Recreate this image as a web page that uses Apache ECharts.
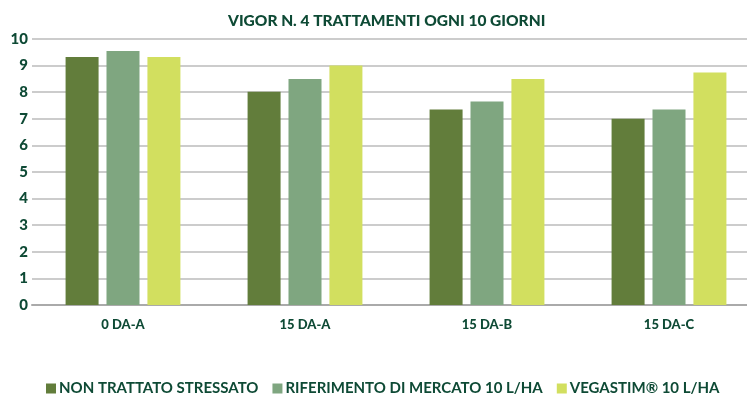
<!DOCTYPE html>
<html>
<head>
<meta charset="utf-8">
<script src="https://cdn.jsdelivr.net/npm/echarts@6/dist/echarts.min.js"></script>
<style>html,body{margin:0;padding:0;background:#fff;overflow:hidden;width:747px;height:403px}#c{width:760px;height:403px}</style>
</head>
<body>
<div id="c"></div>
<script>
const title = 'VIGOR N. 4 TRATTAMENTI OGNI 10 GIORNI';
const categories = ['0 DA-A', '15 DA-A', '15 DA-B', '15 DA-C'];
const seriesNames = ['NON TRATTATO STRESSATO', 'RIFERIMENTO DI MERCATO 10 L/HA', 'VEGASTIM® 10 L/HA'];
const nonTrattato = [9.32, 8.02, 7.35, 7.0];
const riferimento = [9.55, 8.5, 7.65, 7.35];
const vegastim = [9.32, 9.0, 8.5, 8.74];
const yTicks = [0, 10, 1];

const textColor = '#0e4a35';
const colors = ['#627d3b', '#7fa680', '#d2df5f'];
const font = 'Lato';

const chart = echarts.init(document.getElementById('c'));
const data = [nonTrattato, riferimento, vegastim];
chart.setOption({
  animation: false,
  title: {
    text: title, left: 223, top: 8,
    textStyle: {color: textColor, fontFamily: font, fontWeight: 900, fontSize: 15.5}
  },
  legend: {
    bottom: 2, left: 41, itemWidth: 10, itemHeight: 10, itemGap: 14,
    icon: 'rect',
    textStyle: {color: textColor, fontFamily: font, fontWeight: 'bold', fontSize: 15, padding: [0,0,0,-2]},
    data: seriesNames
  },
  grid: {left: 32, top: 39, right: 0, bottom: 98},
  xAxis: {
    type: 'category', data: categories,
    axisLine: {lineStyle: {color: '#aaaaaa', width: 2}},
    axisTick: {show: false},
    axisLabel: {color: textColor, fontFamily: font, fontWeight: 900, fontSize: 13, margin: 13}
  },
  yAxis: {
    type: 'value', min: yTicks[0], max: yTicks[1], interval: yTicks[2],
    axisLine: {show: false}, axisTick: {show: false},
    splitLine: {lineStyle: {color: '#cccccc', width: 2}},
    axisLabel: {color: textColor, fontFamily: font, fontWeight: 900, fontSize: 15, margin: 4}
  },
  series: seriesNames.map((n, i) => ({
    name: n, type: 'bar', data: data[i],
    barWidth: 33, barGap: '24%',
    itemStyle: {color: colors[i]}
  }))
});
</script>
</body>
</html>
